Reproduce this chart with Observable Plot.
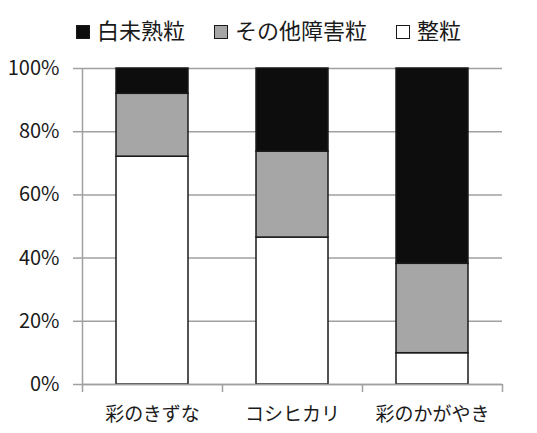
<!DOCTYPE html>
<html>
<head>
<meta charset="utf-8">
<script src="https://cdn.jsdelivr.net/npm/d3@7"></script>
<script src="https://cdn.jsdelivr.net/npm/@observablehq/plot@0.6"></script>
<style>
  html, body { margin: 0; padding: 0; background: #fff; }
  body { width: 537px; height: 433px; overflow: hidden; font-family: "Noto Sans CJK JP", sans-serif; color: #1a1a1a; }
  #legend { height: 52px; display: flex; justify-content: center; align-items: center; gap: 29px; font-size: 22px; padding-left: 0px; box-sizing: border-box; padding-top: 6px; }
  .item { display: flex; align-items: center; gap: 7px; }
  .sw { width: 12px; height: 12px; border: 1.5px solid #1a1a1a; margin-top: 6px; }
</style>
</head>
<body>
<div id="legend"></div>
<div id="chart"></div>
<script>
const categories = ["彩のきずな", "コシヒカリ", "彩のかがやき"];
const series = ["白未熟粒", "その他障害粒", "整粒"];
const seriesColors = ["#0d0d0d", "#a6a6a6", "#ffffff"];
const whiteImmature = [8.0, 26.3, 61.8];
const otherDamaged = [19.9, 27.2, 28.3];
const wholeGrain = [72.1, 46.5, 9.9];
const yTicks = [0, 20, 40, 60, 80, 100];

const W = 537, H = 378, ML = 82, MR = 35, MT = 16, MB = 46;
const step = (W - ML - MR) / categories.length;

// stack from bottom: 整粒, その他障害粒, 白未熟粒
const data = [];
categories.forEach((c, i) => data.push({cat: c, series: "整粒", value: wholeGrain[i]}));
categories.forEach((c, i) => data.push({cat: c, series: "その他障害粒", value: otherDamaged[i]}));
categories.forEach((c, i) => data.push({cat: c, series: "白未熟粒", value: whiteImmature[i]}));

// legend
const legend = document.getElementById("legend");
series.forEach((s, i) => {
  const it = document.createElement("div");
  it.className = "item";
  const sw = document.createElement("span");
  sw.className = "sw";
  sw.style.background = seriesColors[i];
  const t = document.createElement("span");
  t.textContent = s;
  it.appendChild(sw); it.appendChild(t);
  legend.appendChild(it);
});

const gray = "#a0a0a0";
const chart = Plot.plot({
  width: W, height: H,
  marginLeft: ML, marginRight: MR, marginTop: MT, marginBottom: MB,
  style: {fontFamily: "'Noto Sans CJK JP', sans-serif", color: "#1a1a1a", background: "#fff"},
  x: {domain: categories, paddingInner: 0.486, paddingOuter: 0.243, label: null},
  y: {domain: [0, 100], label: null},
  color: {domain: series, range: seriesColors},
  marks: [
    Plot.gridY(yTicks, {stroke: gray, strokeOpacity: 1, strokeWidth: 1.5}),
    Plot.barY(data, {x: "cat", y: "value", fill: "series", stroke: "#1a1a1a", strokeWidth: 1.5, order: null}),
    Plot.ruleY([0], {stroke: gray, strokeWidth: 1.5}),
    Plot.ruleX([categories[0]], {stroke: gray, strokeWidth: 1.5, dx: -step / 2, insetBottom: -8}),
    Plot.ruleX(categories.slice(1), {stroke: gray, strokeWidth: 1.5, dx: -step / 2, y1: 0, y2: 0, insetBottom: -8}),
    Plot.ruleX([categories[categories.length - 1]], {stroke: gray, strokeWidth: 1.5, dx: step / 2, y1: 0, y2: 0, insetBottom: -8}),
    Plot.axisY(yTicks, {tickSize: 9, tickPadding: 14, stroke: gray, strokeWidth: 1.5, fill: "#1a1a1a", fontSize: 20, tickFormat: d => d + "%", label: null}),
    Plot.axisX({tickSize: 0, tickPadding: 23, fontSize: 19, fill: "#1a1a1a", label: null})
  ]
});
document.getElementById("chart").appendChild(chart);
</script>
</body>
</html>
